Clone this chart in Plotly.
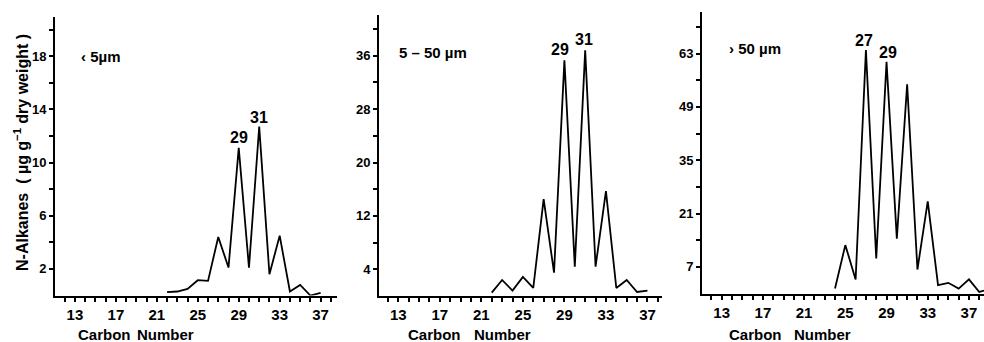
import plotly.graph_objects as go

# ---------------- data ----------------
carbon_small = list(range(22, 38))
alk_small = [0.25, 0.3, 0.5, 1.15, 1.1, 4.4, 2.1, 11.1, 2.1, 12.7, 1.6, 4.5, 0.3, 0.8, 0.0, 0.2]

carbon_mid = list(range(22, 38))
alk_mid = [0.5, 2.4, 0.8, 2.85, 1.2, 14.5, 3.5, 35.3, 4.4, 36.8, 4.4, 15.7, 1.2, 2.4, 0.6, 0.8]

carbon_large = list(range(24, 40))
alk_large = [1.3, 12.7, 3.7, 63.9, 9.2, 60.8, 14.4, 54.9, 6.3, 24.2, 2.2, 2.8, 1.3, 3.7, 0.4, 1.2]

panel_labels = ["\u2039 5\u00b5m", "5 \u2013 50 \u00b5m", "\u203a 50 \u00b5m"]

x_tick_vals = list(range(12, 39))
x_tick_labels = ["13", "17", "21", "25", "29", "33", "37"]

y_ticks_small = [2, 4, 6, 8, 10, 12, 14, 16, 18, 20]
y_labels_small = ["2", "6", "10", "14", "18"]
y_ticks_mid = [4, 8, 12, 16, 20, 24, 28, 32, 36, 40]
y_labels_mid = ["4", "12", "20", "28", "36"]
y_ticks_large = [7, 14, 21, 28, 35, 42, 49, 56, 63, 70]
y_labels_large = ["7", "21", "35", "49", "63"]

peak_small = [(29, "29"), (31, "31")]
peak_mid = [(29, "29"), (31, "31")]
peak_large = [(27, "27"), (29, "29")]

# ---------------- layout helpers ----------------
W, H = 984, 342
FONT = "Liberation Sans, Arial, Helvetica, sans-serif"


def px_x(p):
    return p / W


def px_y(p):
    return (H - p) / H


def ticktext_for(vals, labels):
    return [str(v) if str(v) in labels else "" for v in vals]


fig = go.Figure()

panels = [
    dict(c=carbon_small, v=alk_small, xdom=(55, 337), xr=(11.05, 38.6),
         ydom=(295.5, 17), yr=(0, 20.95), yt=y_ticks_small, yl=y_labels_small),
    dict(c=carbon_mid, v=alk_mid, xdom=(379, 662), xr=(11.14, 38.4),
         ydom=(296, 15), yr=(0, 42.1), yt=y_ticks_mid, yl=y_labels_mid),
    dict(c=carbon_large, v=alk_large, xdom=(702, 984), xr=(11.09, 38.46),
         ydom=(293.5, 12), yr=(0, 73.9), yt=y_ticks_large, yl=y_labels_large),
]

layout_axes = {}
for i, p in enumerate(panels, start=1):
    xa = "x" if i == 1 else f"x{i}"
    ya = "y" if i == 1 else f"y{i}"
    fig.add_trace(go.Scatter(x=p["c"], y=p["v"], mode="lines",
                             line=dict(color="black", width=1.8),
                             xaxis=xa, yaxis=ya, showlegend=False,
                             cliponaxis=True))
    xkey = "xaxis" if i == 1 else f"xaxis{i}"
    ykey = "yaxis" if i == 1 else f"yaxis{i}"
    layout_axes[xkey] = dict(
        domain=[px_x(p["xdom"][0]), px_x(p["xdom"][1])],
        range=list(p["xr"]), anchor=ya,
        showline=True, linecolor="black", linewidth=2,
        showgrid=False, zeroline=False,
        ticks="outside", ticklen=4, tickwidth=1.5, tickcolor="black",
        tickvals=x_tick_vals, ticktext=ticktext_for(x_tick_vals, x_tick_labels),
        tickangle=0,
        tickfont=dict(family=FONT, size=15, color="black", weight="bold"),
        fixedrange=True,
    )
    layout_axes[ykey] = dict(
        domain=[px_y(p["ydom"][0]), px_y(p["ydom"][1])],
        range=list(p["yr"]), anchor=xa,
        showline=True, linecolor="black", linewidth=2,
        showgrid=False, zeroline=False,
        ticks="outside", ticklen=4, tickwidth=1.5, tickcolor="black",
        tickvals=p["yt"], ticktext=ticktext_for(p["yt"], p["yl"]),
        tickangle=0,
        tickfont=dict(family=FONT, size=13, color="black", weight="bold"),
        ticklabelstandoff=0,
        fixedrange=True,
    )

fig.update_layout(**layout_axes)

ann = []
# panel labels
label_pos = [(79, 57), (397, 52), (727, 48)]
for txt, (lx, ly) in zip(panel_labels, label_pos):
    ann.append(dict(text=txt, x=px_x(lx), y=px_y(ly), xref="paper", yref="paper",
                    xanchor="left", yanchor="middle", showarrow=False,
                    font=dict(family=FONT, size=15, color="black", weight="bold")))

# peak labels (data coordinates)
peak_sets = [
    (peak_small, "x", "y", [(29.0, 11.9), (30.97, 13.4)]),
    (peak_mid, "x2", "y2", [(28.56, 36.9), (30.87, 38.4)]),
    (peak_large, "x3", "y3", [(26.8, 66.5), (29.15, 63.4)]),
]
for peaks, xr, yr, pos in peak_sets:
    for (c, t), (ax, ay) in zip(peaks, pos):
        ann.append(dict(text=t, x=ax, y=ay, xref=xr, yref=yr,
                        xanchor="center", yanchor="middle", showarrow=False,
                        font=dict(family=FONT, size=16, color="black", weight="bold")))

# x-axis titles
for cx, nx in [(104, 165), (434, 502), (755.5, 822.5)]:
    for word, wx in (("Carbon", cx), ("Number", nx)):
        ann.append(dict(text=word, x=px_x(wx), y=px_y(334), xref="paper", yref="paper",
                        xanchor="center", yanchor="middle", showarrow=False,
                        font=dict(family=FONT, size=15, color="black", weight="bold")))

# y-axis title
ann.append(dict(text="N-Alkanes  ( \u00b5g g<sup>\u22121</sup> dry weight )",
                x=px_x(21), y=px_y(153), xref="paper", yref="paper",
                xanchor="center", yanchor="middle", textangle=-90, showarrow=False,
                font=dict(family=FONT, size=16, color="black", weight="bold")))

fig.update_layout(
    width=W, height=H,
    margin=dict(l=0, r=0, t=0, b=0),
    paper_bgcolor="white", plot_bgcolor="white",
    annotations=ann,
    showlegend=False,
)

fig.write_html("out.html", config={"displayModeBar": False},
               post_script="document.body.style.margin='0';document.body.style.overflow='hidden';")
